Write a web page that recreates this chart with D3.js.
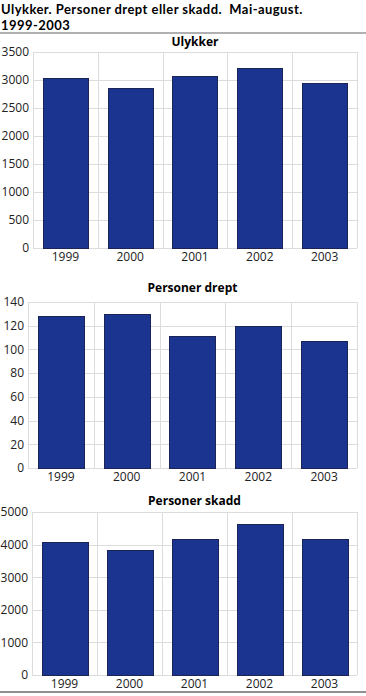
<!DOCTYPE html>
<html><head><meta charset="utf-8">
<script src="https://cdn.jsdelivr.net/npm/d3@7"></script>
<style>
html,body{margin:0;padding:0;background:#fff;}
svg{display:block;}
</style></head>
<body>
<script>
const years = ["1999","2000","2001","2002","2003"];
const ulykker = [3030, 2852, 3071, 3214, 2941];
const drept = [128, 130, 111, 120, 107];
const skadd = [4072, 3848, 4164, 4645, 4185];
const ticksUlykker = [0,500,1000,1500,2000,2500,3000,3500];
const ticksDrept = [0,20,40,60,80,100,120,140];
const ticksSkadd = [0,1000,2000,3000,4000,5000];

const W = 366, H = 696;
const font = "'Open Sans', sans-serif";
const svg = d3.select("body").append("svg").attr("width", W).attr("height", H);

const titleLines = ["Ulykker. Personer drept eller skadd.\u00a0\u00a0Mai-august.", "1999-2003"];
svg.selectAll(".title").data(titleLines).enter().append("text")
  .attr("x", 1).attr("y", (d, i) => 13.5 + i * 16)
  .attr("font-family", "Lato, sans-serif").attr("font-weight", "bold")
  .attr("font-size", 13).attr("letter-spacing", 0.45).attr("fill", "#000").text(d => d);

svg.append("rect").attr("x", 0).attr("y", 32).attr("width", W).attr("height", 2).attr("fill", "#b0b0b0");
svg.append("rect").attr("x", 0).attr("y", 691).attr("width", W).attr("height", 2).attr("fill", "#909090");

const panels = [
  {name: "Ulykker", values: ulykker, ticks: ticksUlykker, left: 33, right: 357, top: 52, bottom: 248, titleY: 46},
  {name: "Personer drept", values: drept, ticks: ticksDrept, left: 28, right: 357, top: 302, bottom: 468, titleY: 292},
  {name: "Personer skadd", values: skadd, ticks: ticksSkadd, left: 32, right: 357, top: 512, bottom: 675, titleY: 505}
];

panels.forEach(p => {
  const g = svg.append("g");
  const x = d3.scaleBand().domain(years).range([p.left, p.right]).paddingInner(0.3).paddingOuter(0.15);
  const y = d3.scaleLinear().domain([0, d3.max(p.ticks)]).range([p.bottom, p.top]);

  g.selectAll(".hg").data(p.ticks).enter().append("line")
    .attr("x1", p.left).attr("x2", p.right)
    .attr("y1", d => Math.round(y(d)) + 0.5).attr("y2", d => Math.round(y(d)) + 0.5)
    .attr("stroke", "#dcdcdc").attr("stroke-width", 1);
  const bounds = years.map(d => x(d) - x.step() * x.paddingInner() / 2).concat([p.right]);
  g.selectAll(".vg").data(bounds).enter().append("line")
    .attr("x1", d => Math.round(d) + 0.5).attr("x2", d => Math.round(d) + 0.5)
    .attr("y1", p.top).attr("y2", p.bottom)
    .attr("stroke", "#dcdcdc").attr("stroke-width", 1);

  g.selectAll(".bar").data(p.values).enter().append("rect")
    .attr("x", (d, i) => Math.round(x(years[i])) + 0.5)
    .attr("y", d => Math.round(y(d)) + 0.5)
    .attr("width", Math.round(x.bandwidth()))
    .attr("height", d => Math.round(p.bottom) - Math.round(y(d)))
    .attr("fill", "#1a3490").attr("stroke", "#1b2455").attr("stroke-width", 1);

  const ya = g.append("g").attr("transform", `translate(${p.left},0)`)
    .call(d3.axisLeft(y).tickValues(p.ticks).tickSize(0).tickPadding(4).tickFormat(d3.format("d")));
  ya.select(".domain").remove();
  ya.selectAll("text").attr("font-family", font).attr("font-size", 12).attr("fill", "#222");

  const xa = g.append("g").attr("transform", `translate(0,${p.bottom})`)
    .call(d3.axisBottom(x).tickSize(0).tickPadding(4));
  xa.select(".domain").remove();
  xa.selectAll("text").attr("font-family", font).attr("font-size", 12).attr("fill", "#222");

  g.append("text").attr("x", (p.left + p.right) / 2).attr("y", p.titleY)
    .attr("text-anchor", "middle").attr("font-family", font).attr("font-weight", "bold")
    .attr("font-size", 12).attr("fill", "#000").text(p.name);
});
</script>
</body></html>
